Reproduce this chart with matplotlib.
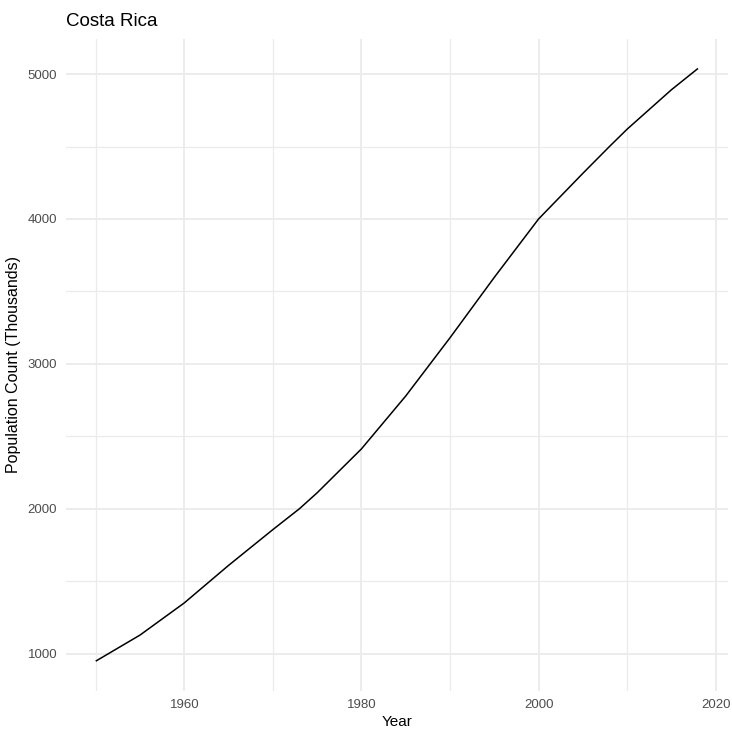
import numpy as np
import matplotlib
matplotlib.use("Agg")
import matplotlib.pyplot as plt
from matplotlib.ticker import MultipleLocator

# values (thousands)
years = [1950, 1955, 1960, 1965, 1970, 1973, 1975, 1980, 1985, 1990, 1995, 2000, 2005, 2008, 2010, 2015, 2018]
population = [948, 1128, 1350, 1609, 1856, 2000, 2110, 2413, 2778, 3180, 3597, 4000, 4315, 4500, 4620, 4892, 5039]

plt.rcParams['font.family'] = ['Liberation Sans', 'DejaVu Sans']

fig = plt.figure(figsize=(7.32, 7.31), dpi=100)
ax = fig.add_axes([0.0896, 0.0550, 0.9051, 0.8919])

ax.plot(years, population, color='black', lw=1.1, solid_capstyle='butt')

ax.xaxis.set_major_locator(MultipleLocator(20))
ax.xaxis.set_minor_locator(MultipleLocator(10))
ax.yaxis.set_major_locator(MultipleLocator(1000))
ax.yaxis.set_minor_locator(MultipleLocator(500))

ax.grid(which='major', color='#EBEBEB', lw=1.3)
ax.grid(which='minor', color='#EBEBEB', lw=0.9)
ax.set_axisbelow(True)
for s in ax.spines.values():
    s.set_visible(False)
ax.tick_params(which='both', length=0, labelsize=9.5, labelcolor='#4D4D4D', pad=6)

ax.set_xlabel('Year', fontsize=11, labelpad=3)
ax.set_ylabel('Population Count (Thousands)', fontsize=11.5, labelpad=5)
ax.set_title('Costa Rica', loc='left', fontsize=13.5, pad=9)

fig.savefig('out.png', dpi=100)
